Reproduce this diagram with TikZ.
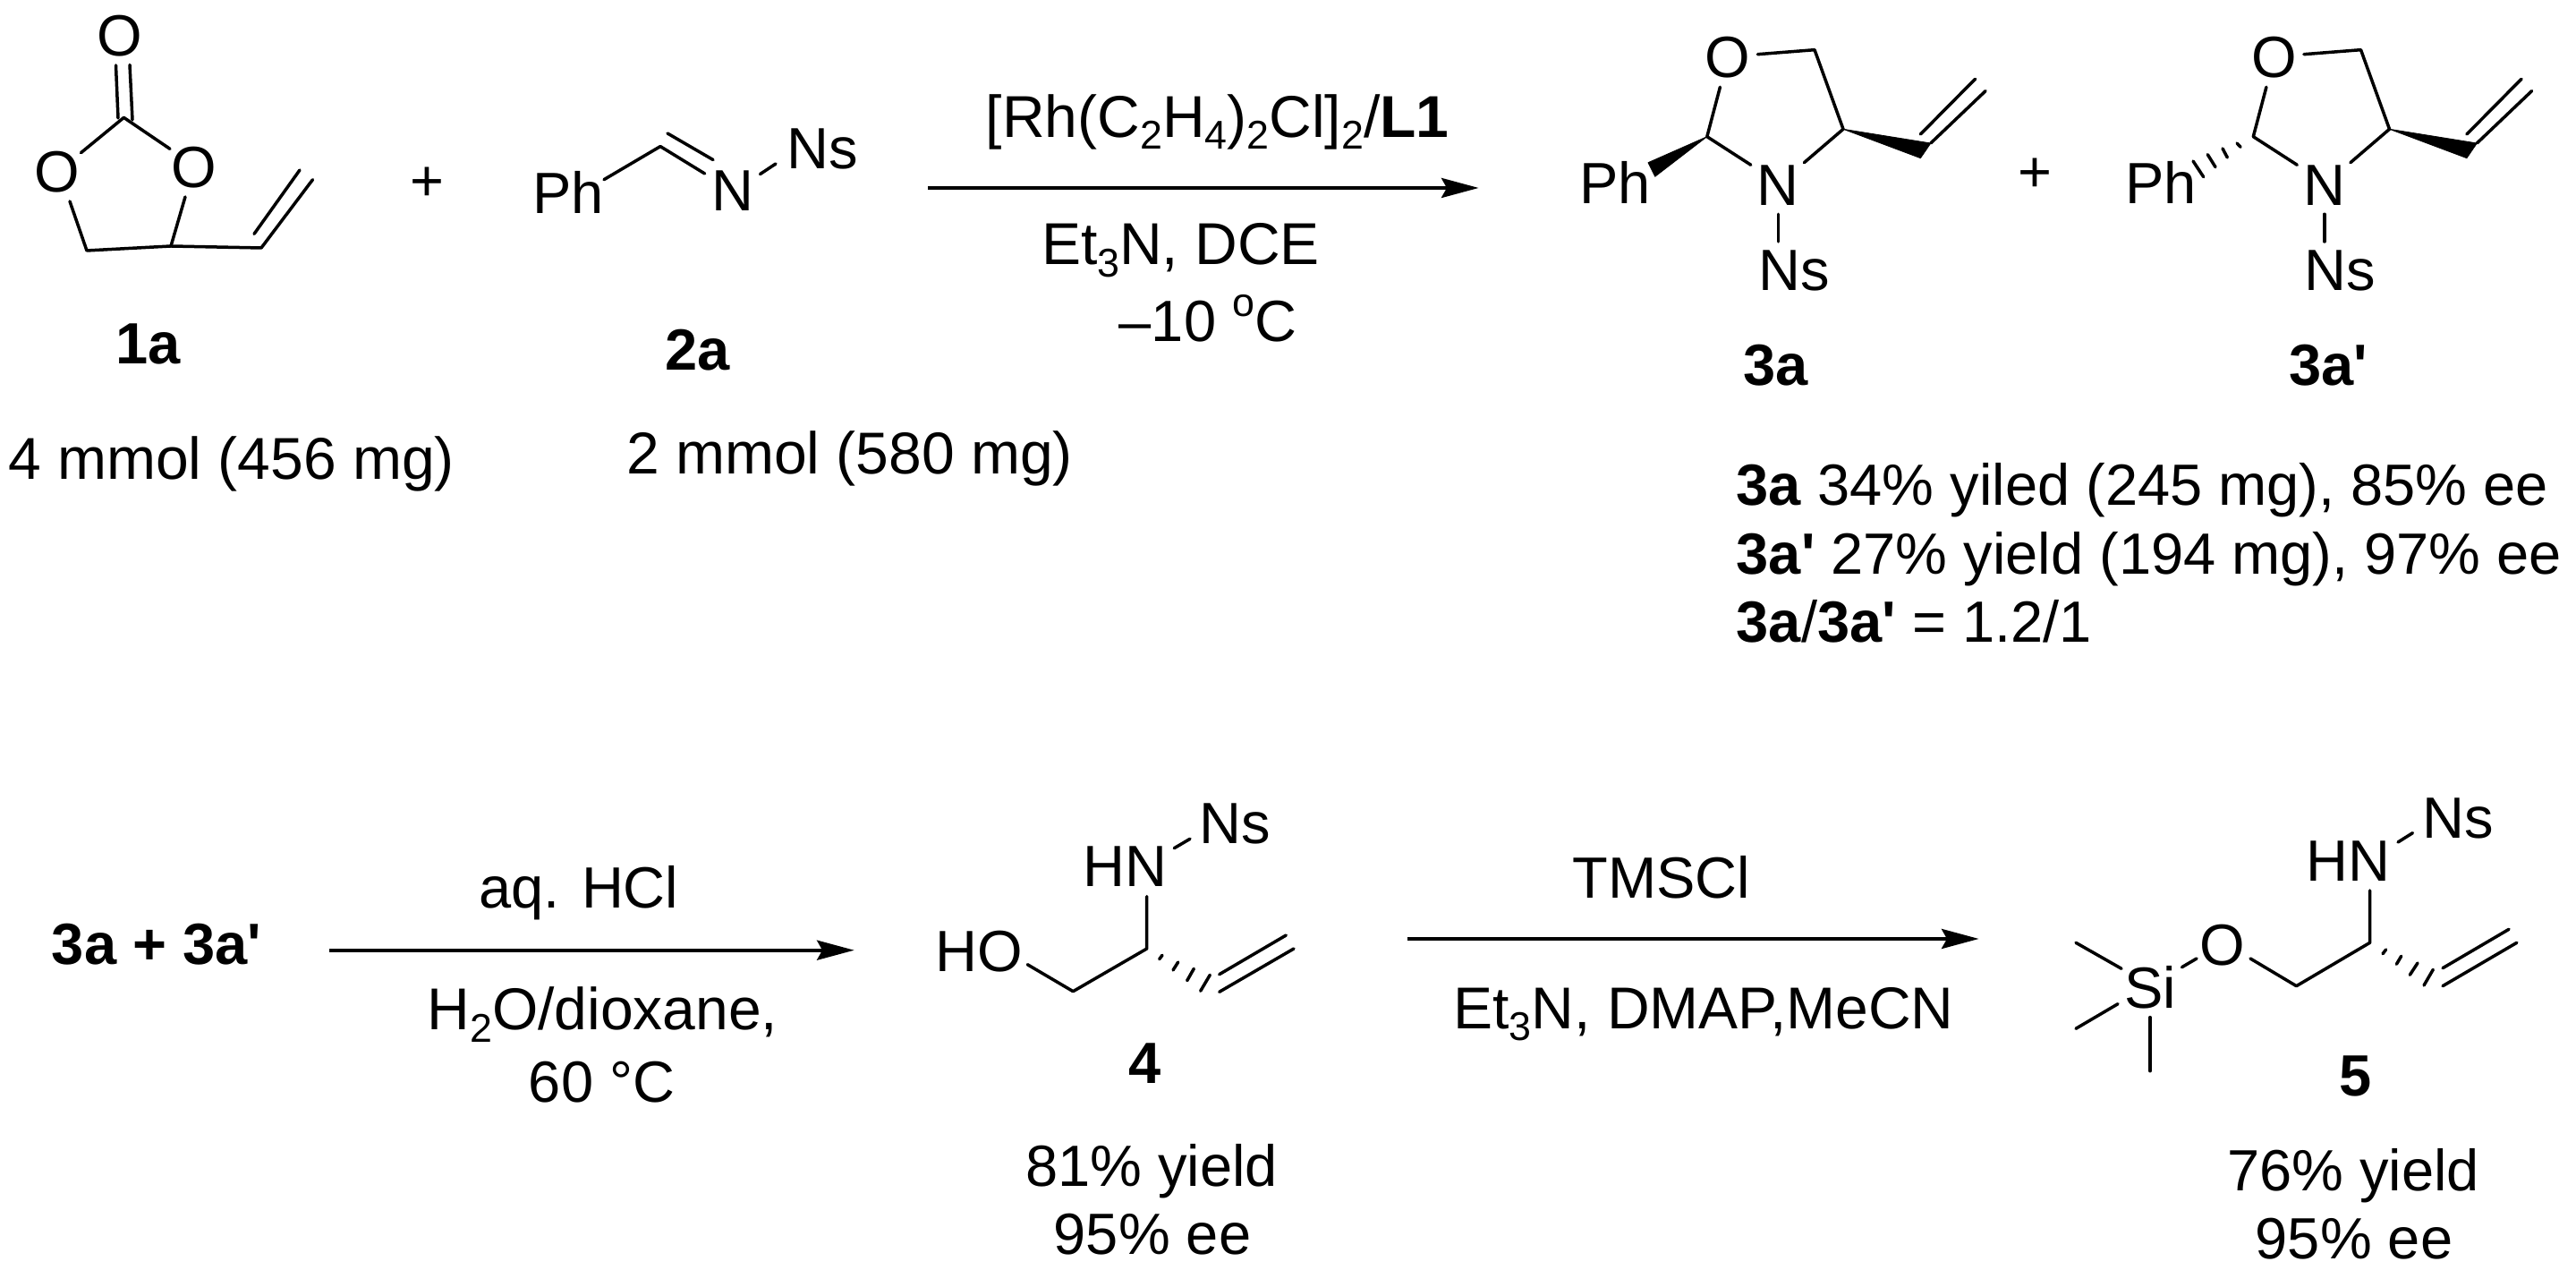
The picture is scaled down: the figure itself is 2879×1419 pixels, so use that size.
\documentclass[tikz,border=0pt]{standalone}
\usepackage{fontspec}
\newfontfamily\lib{Liberation Sans}
\usetikzlibrary{arrows.meta}
\newcommand{\sbs}[1]{\raisebox{-3.4pt}{\fontsize{11.2}{11}\selectfont #1}}
\newcommand{\oring}{%
  \node[txt] (O) at (1931,87) {O};
  \node[txt] (N) at (1987,230) {N};
  \node[txt] (Ns) at (2005,325) {Ns};
  \coordinate (OC5) at (1964.4,60.7);
  \coordinate (C5) at (2028,55.7);
  \coordinate (C4) at (2060,144.3);
  \coordinate (C4N) at (2016.4,181.7);
  \coordinate (C2) at (1907.8,152.7);
  \coordinate (C2O) at (1922.4,97.3);
  \coordinate (C2N) at (1956.8,184.3);
  \coordinate (Wa) at (2157.8,160);
  \coordinate (Wb) at (2146.4,176.7);
  \coordinate (Vc) at (2219,101.7);
  \coordinate (Vd) at (2146.4,150);
  \coordinate (Ve) at (2207.5,88.3);
  \coordinate (NNa) at (1987.3,239.3);
  \coordinate (NNb) at (1987.3,270);
  \draw[bond] (OC5) -- (C5) -- (C4) -- (C4N);
  \draw[bond] (C2O) -- (C2) -- (C2N);
  \fill[wedge] (C4) -- (Wa) -- (Wb) -- cycle;
  \draw[bond] (Wa) -- (Vc);
  \draw[bond] (Vd) -- (Ve);
  \draw[bond] (NNa) -- (NNb);
}
\begin{document}
\begin{tikzpicture}[x=0.25pt,y=-0.25pt,
  txt/.style={inner sep=0pt,anchor=base,font=\lib\fontsize{16.25}{16}\selectfont},
  txtw/.style={txt,font=\lib\fontsize{16.5}{16}\selectfont},
  txtl/.style={txt,anchor=base west},
  bond/.style={line width=0.875pt,line cap=round,line join=round},
  hash/.style={line width=0.875pt,line cap=round},
  wedge/.style={fill=black,draw=black,line width=0.2pt,line join=round},
  rxn/.style={line width=1pt,-{Stealth[length=10.4pt,width=5.5pt,inset=1.5pt]}}]
\useasboundingbox (0,0) rectangle (2879,1419);

% ---- 1a
\node[txt] (a-Ot) at (134,63) {O};
\node[txt] (a-Ol) at (64,215) {O};
\node[txt] (a-Or) at (217,210) {O};
\coordinate (a-da) at (129.5,73); \coordinate (a-db) at (132,132);
\coordinate (a-dc) at (145,72.5); \coordinate (a-dd) at (148,134);
\coordinate (a-C) at (138.4,131.4);
\coordinate (a-CL) at (90.5,170.7); \coordinate (a-CR) at (190,166.4);
\coordinate (a-L) at (78,225); \coordinate (a-CH2) at (97,280);
\coordinate (a-CH) at (191,275); \coordinate (a-R) at (207,220);
\coordinate (a-V) at (292,277); \coordinate (a-Ve) at (349.5,200.7);
\coordinate (a-Va) at (284,261.4); \coordinate (a-Vb) at (335,190);
\draw[bond] (a-da) -- (a-db);
\draw[bond] (a-dc) -- (a-dd);
\draw[bond] (a-CL) -- (a-C) -- (a-CR);
\draw[bond] (a-L) -- (a-CH2) -- (a-CH) -- (a-R);
\draw[bond] (a-CH) -- (a-V) -- (a-Ve);
\draw[bond] (a-Va) -- (a-Vb);
\node[txt] (a-lab) at (166,407) {\textbf{1a}};
\node[txtw] (a-amt) at (258.5,535.7) {4 mmol (456 mg)};
\node[txt] (plus1) at (477,225) {+};

% ---- 2a
\node[txt] (b-Ph) at (635,238.6) {Ph};
\node[txt] (b-N) at (818.5,236) {N};
\node[txt] (b-Ns) at (919,189) {Ns};
\coordinate (b-a) at (675,200.7); \coordinate (b-C) at (738,163.6);
\coordinate (b-b) at (787.6,194); \coordinate (b-c) at (746,149);
\coordinate (b-d) at (797,178.6); \coordinate (b-e) at (849.5,194.6);
\coordinate (b-f) at (867,183);
\draw[bond] (b-a) -- (b-C) -- (b-b);
\draw[bond] (b-c) -- (b-d);
\draw[bond] (b-e) -- (b-f);
\node[txt] (b-lab) at (779.5,414) {\textbf{2a}};
\node[txtw] (b-amt) at (949.5,530) {2 mmol (580 mg)};

% ---- first arrow
\coordinate (r1s) at (1037,210); \coordinate (r1e) at (1652.6,210);
\draw[rxn] (r1s) -- (r1e);
\node[txtw] (r1a) at (1360.7,153.3) {[Rh(C\sbs{2}H\sbs{4})\sbs{2}Cl]\sbs{2}/\textbf{L1}};
\node[txtw] (r1b) at (1319.5,296) {Et\sbs{3}N, DCE};
\node[txt] (r1c) at (1350,381.7) {–10 \raisebox{7pt}{\fontsize{11.2}{11}\selectfont o}C};

% ---- 3a
\begin{scope}[name prefix=c-]
\oring
\node[txt] (Ph) at (1805,228) {Ph};
\coordinate (Wc) at (1842,181.7);
\coordinate (Wd) at (1849.7,197.3);
\fill[wedge] (C2) -- (Wc) -- (Wd) -- cycle;
\node[txt] (lab) at (1985,431) {\textbf{3a}};
\end{scope}
\node[txt] (plus2) at (2274,215) {+};

% ---- 3a'
\begin{scope}[name prefix=d-,shift={(610.5,0)}]
\oring
\end{scope}
\node[txt] (d-Ph) at (2415,228) {Ph};
\coordinate (d-h1a) at (2500,160); \coordinate (d-h1b) at (2504,164.3);
\coordinate (d-h2a) at (2484,166); \coordinate (d-h2b) at (2489.3,176);
\coordinate (d-h3a) at (2467.3,172.7); \coordinate (d-h3b) at (2476,186.7);
\coordinate (d-h4a) at (2451,180); \coordinate (d-h4b) at (2462.7,197.7);
\draw[hash] (d-h1a) -- (d-h1b);
\draw[hash] (d-h2a) -- (d-h2b);
\draw[hash] (d-h3a) -- (d-h3b);
\draw[hash] (d-h4a) -- (d-h4b);
\node[txt] (d-lab) at (2602,431) {\textbf{3a'}};

% ---- yields of 3a / 3a'
\node[txtl] (y1) at (1940,565) {\textbf{3a} 34\% yiled (245 mg), 85\% ee};
\node[txtl] (y2) at (1940,641.7) {\textbf{3a'} 27\% yield (194 mg), 97\% ee};
\node[txtl] (y3) at (1940,718) {\textbf{3a}/\textbf{3a'} = 1.2/1};

% ---- second row start
\node[txt] (start) at (175,1078) {\textbf{3a + 3a'}};
\coordinate (r2s) at (368,1061.7); \coordinate (r2e) at (954.7,1061.7);
\draw[rxn] (r2s) -- (r2e);
\node[txt] (r2a) at (647,1015) {aq. HCl};
\node[txtw] (r2b) at (673.4,1150.7) {H\sbs{2}O/dioxane,};
\node[txt] (r2c) at (672.5,1231.7) {60 °C};

% ---- 4
\node[txt] (e-HO) at (1094,1086) {HO};
\node[txt] (e-HN) at (1257,990.7) {HN};
\node[txt] (e-Ns) at (1380,943) {Ns};
\coordinate (e-a) at (1148.3,1077.7); \coordinate (e-b) at (1199.3,1107.7);
\coordinate (e-c) at (1281.7,1060); \coordinate (e-d) at (1281.7,1001.7);
\coordinate (e-e) at (1312.3,947.7); \coordinate (e-f) at (1330,937.3);
\draw[bond] (e-a) -- (e-b) -- (e-c) -- (e-d);
\draw[bond] (e-e) -- (e-f);
\coordinate (e-h1a) at (1295.7,1071.7); \coordinate (e-h1b) at (1299,1067.3);
\coordinate (e-h2a) at (1311,1084); \coordinate (e-h2b) at (1316.7,1075);
\coordinate (e-h3a) at (1326.7,1095.7); \coordinate (e-h3b) at (1334.3,1082.3);
\coordinate (e-h4a) at (1341.7,1107.3); \coordinate (e-h4b) at (1352.3,1089.3);
\draw[hash] (e-h1a) -- (e-h1b);
\draw[hash] (e-h2a) -- (e-h2b);
\draw[hash] (e-h3a) -- (e-h3b);
\draw[hash] (e-h4a) -- (e-h4b);
\coordinate (e-v1) at (1362.7,1108.3); \coordinate (e-v2) at (1446,1060);
\coordinate (e-v3) at (1362.7,1088.7); \coordinate (e-v4) at (1437.3,1045);
\draw[bond] (e-v1) -- (e-v2);
\draw[bond] (e-v3) -- (e-v4);
\node[txt] (e-lab) at (1279.5,1211) {\textbf{4}};
\node[txt] (e-y1) at (1287,1326) {81\% yield};
\node[txt] (e-y2) at (1288,1401.7) {95\% ee};

% ---- third arrow
\coordinate (r3s) at (1572.7,1049); \coordinate (r3e) at (2211.6,1049);
\draw[rxn] (r3s) -- (r3e);
\node[txt] (r3a) at (1857,1004) {TMSCl};
\node[txtw] (r3b) at (1904,1149.3) {Et\sbs{3}N, DMAP,MeCN};

% ---- 5
\node[txt] (f-Si) at (2403,1126.7) {Si};
\node[txt] (f-O) at (2484,1079) {O};
\node[txt] (f-HN) at (2624,985) {HN};
\node[txt] (f-Ns) at (2747.5,937) {Ns};
\coordinate (f-m1) at (2320,1053.3); \coordinate (f-m1e) at (2371,1082.3);
\coordinate (f-m2) at (2320,1149.3); \coordinate (f-m2e) at (2367,1121.7);
\coordinate (f-m3) at (2403,1196.7); \coordinate (f-m3e) at (2403,1136.7);
\draw[bond] (f-m1) -- (f-m1e);
\draw[bond] (f-m2) -- (f-m2e);
\draw[bond] (f-m3) -- (f-m3e);
\coordinate (f-s1) at (2438.5,1080.7); \coordinate (f-s2) at (2455,1071);
\draw[bond] (f-s1) -- (f-s2);
\coordinate (f-a) at (2515,1071); \coordinate (f-b) at (2566.5,1101.7);
\coordinate (f-c) at (2648.6,1053.3); \coordinate (f-d) at (2648.6,995);
\draw[bond] (f-a) -- (f-b) -- (f-c) -- (f-d);
\coordinate (f-e) at (2680,941); \coordinate (f-f) at (2696.4,930.7);
\draw[bond] (f-e) -- (f-f);
\coordinate (f-h1a) at (2663,1065.7); \coordinate (f-h1b) at (2666.6,1061);
\coordinate (f-h2a) at (2678.4,1077.3); \coordinate (f-h2b) at (2683.7,1068.3);
\coordinate (f-h3a) at (2693.3,1089.3); \coordinate (f-h3b) at (2702,1076);
\coordinate (f-h4a) at (2709,1101); \coordinate (f-h4b) at (2719.3,1083.3);
\draw[hash] (f-h1a) -- (f-h1b);
\draw[hash] (f-h2a) -- (f-h2b);
\draw[hash] (f-h3a) -- (f-h3b);
\draw[hash] (f-h4a) -- (f-h4b);
\coordinate (f-v1) at (2730,1101.7); \coordinate (f-v2) at (2812.8,1053.3);
\coordinate (f-v3) at (2730,1081.7); \coordinate (f-v4) at (2804,1038.3);
\draw[bond] (f-v1) -- (f-v2);
\draw[bond] (f-v3) -- (f-v4);
\node[txt] (f-lab) at (2633,1225) {\textbf{5}};
\node[txt] (f-y1) at (2630,1331) {76\% yield};
\node[txt] (f-y2) at (2631,1407) {95\% ee};
\end{tikzpicture}
\end{document}
